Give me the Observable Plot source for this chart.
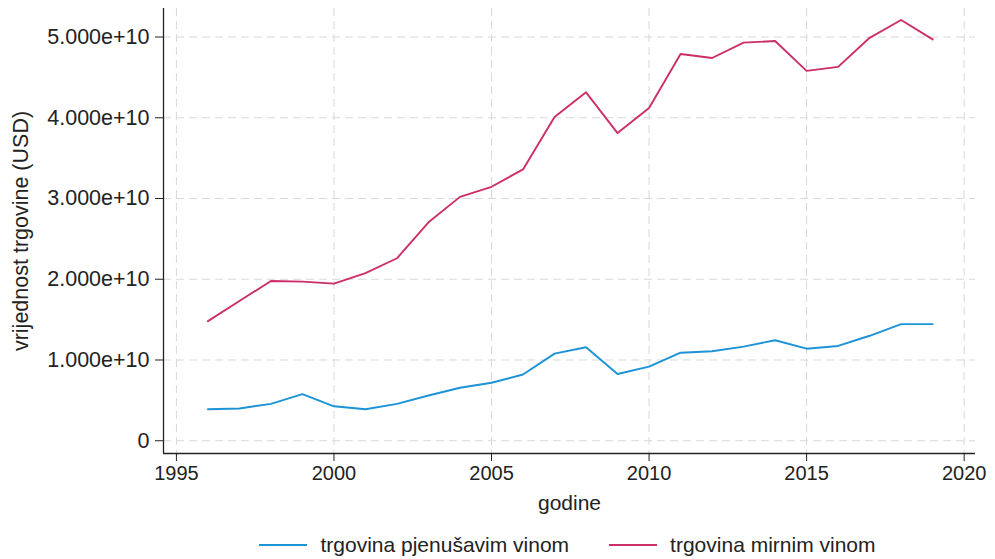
<!DOCTYPE html>
<html>
<head>
<meta charset="utf-8">
<script src="https://cdn.jsdelivr.net/npm/d3@7"></script>
<script src="https://cdn.jsdelivr.net/npm/@observablehq/plot@0.6"></script>
<style>
  html, body { margin: 0; padding: 0; background: #fff; }
  body { width: 995px; height: 559px; overflow: hidden; font-family: "Liberation Sans", Arial, sans-serif; }
  #legend { display: flex; justify-content: center; align-items: center; padding: 15px 20px 0 160px; box-sizing: border-box; height: 44px; font-size: 21px; color: #222; }
  .item { display: flex; align-items: center; margin: 0 20px; }
  .swatch { width: 48px; height: 2px; margin-right: 13px; }
</style>
</head>
<body>
<div id="chart"></div>
<div id="legend"></div>
<script>
const years = [1996,1997,1998,1999,2000,2001,2002,2003,2004,2005,2006,2007,2008,2009,2010,2011,2012,2013,2014,2015,2016,2017,2018,2019];
const sparkling = [0.39,0.40,0.457,0.577,0.427,0.39,0.457,0.56,0.656,0.718,0.82,1.079,1.158,0.826,0.917,1.09,1.108,1.166,1.245,1.14,1.174,1.30,1.444,1.444].map(v => v * 1e10);
const still = [1.481,1.73,1.979,1.97,1.946,2.075,2.26,2.705,3.02,3.145,3.36,4.01,4.315,3.81,4.12,4.79,4.74,4.93,4.95,4.58,4.63,4.99,5.21,4.97].map(v => v * 1e10);
const seriesNames = ["trgovina pjenušavim vinom", "trgovina mirnim vinom"];
const seriesColors = ["#1c93d6", "#cc2f68"];
const xTicks = [1995, 2000, 2005, 2010, 2015, 2020];
const yTicks = [0, 1e10, 2e10, 3e10, 4e10, 5e10];
const xLabel = "godine";
const yLabel = "vrijednost trgovine (USD)";

const data = [];
years.forEach((y, i) => {
  data.push({year: y, value: sparkling[i], series: seriesNames[0]});
  data.push({year: y, value: still[i], series: seriesNames[1]});
});

const xDomain = [1994.59, 2020.36];
const yDomain = [-0.158e10, 5.353e10];
const fmt = d => d === 0 ? "0" : d.toExponential(3);

const chart = Plot.plot({
  width: 995,
  height: 515,
  marginLeft: 163,
  marginRight: 20,
  marginTop: 8,
  marginBottom: 62,
  style: {fontFamily: "Liberation Sans, Arial, sans-serif", fontSize: "20px", color: "#222", background: "#fff"},
  x: {domain: xDomain},
  y: {domain: yDomain},
  color: {domain: seriesNames, range: seriesColors},
  marks: [
    Plot.gridX(xTicks, {stroke: "#d8d8d8", strokeOpacity: 1, strokeDasharray: "8,5"}),
    Plot.gridY(yTicks, {stroke: "#d8d8d8", strokeOpacity: 1, strokeDasharray: "8,5"}),
    Plot.axisX({ticks: xTicks, tickFormat: d => String(d), tickSize: 8, tickPadding: 4, label: null, fontSize: 20}),
    Plot.axisY({ticks: yTicks, tickFormat: fmt, tickSize: 8, tickPadding: 6, fontSize: 21.5,
      label: yLabel, labelAnchor: "center", labelOffset: 151, labelArrow: "none"}),
    Plot.ruleX([xDomain[0]], {stroke: "#222", strokeWidth: 1.3}),
    Plot.ruleY([yDomain[0]], {stroke: "#222", strokeWidth: 1.3}),
    Plot.line(data, {x: "year", y: "value", z: "series", stroke: "series", strokeWidth: 1.9}),
    Plot.text([xLabel], {frameAnchor: "bottom", dy: 56, fontSize: 21, fill: "#222"})
  ]
});
document.getElementById("chart").appendChild(chart);

const legend = document.getElementById("legend");
seriesNames.forEach((name, i) => {
  const item = document.createElement("div");
  item.className = "item";
  const sw = document.createElement("div");
  sw.className = "swatch";
  sw.style.background = seriesColors[i];
  const label = document.createElement("span");
  label.textContent = name;
  item.appendChild(sw);
  item.appendChild(label);
  legend.appendChild(item);
});
</script>
</body>
</html>
